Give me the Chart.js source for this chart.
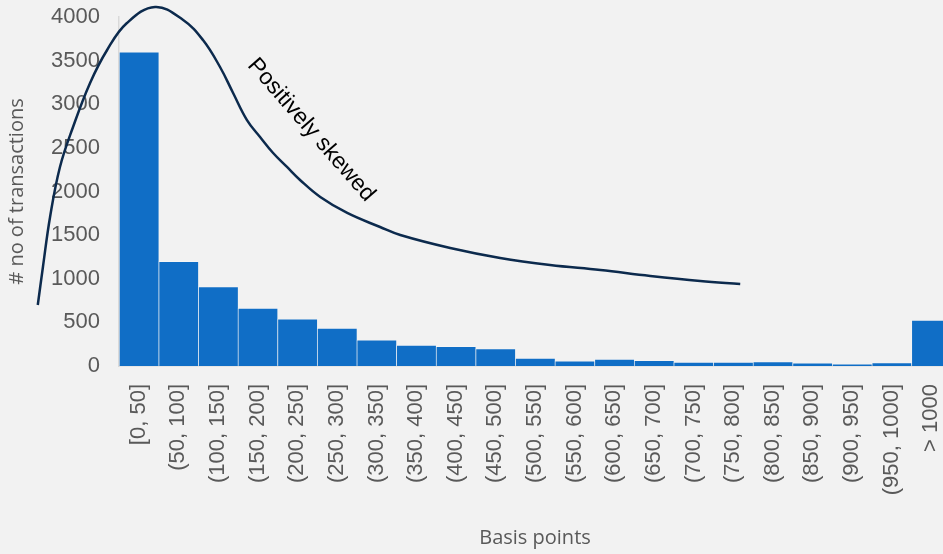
<!DOCTYPE html>
<html>
<head>
<meta charset="utf-8">
<script src="https://cdn.jsdelivr.net/npm/chart.js@4"></script>
<style>
  html, body { margin: 0; padding: 0; background: #f2f2f2; overflow: hidden; }
  #wrap { width: 951px; height: 554px; }
  canvas { display: block; }
</style>
</head>
<body>
<div id="wrap"><canvas id="chart" width="951" height="554"></canvas></div>
<script>
// Histogram of transaction spreads (basis points)
const categories = ['[0, 50]', '(50, 100]', '(100, 150]', '(150, 200]', '(200, 250]', '(250, 300]',
  '(300, 350]', '(350, 400]', '(400, 450]', '(450, 500]', '(500, 550]', '(550, 600]', '(600, 650]',
  '(650, 700]', '(700, 750]', '(750, 800]', '(800, 850]', '(850, 900]', '(900, 950]', '(950, 1000]', '> 1000'];
const transactions = [3600, 1200, 910, 665, 540, 435, 300, 240, 225, 200, 90, 60, 80, 65, 45, 45, 50, 35, 25, 40, 525];
const yTickValues = [0, 500, 1000, 1500, 2000, 2500, 3000, 3500, 4000];

// Sketched skew curve, x in bin units (0 = left edge of first bin), y in transactions
const curveX = [-2.05, -1.92, -1.74, -1.49, -1.16, -0.73, -0.30, 0.20, 0.91, 1.62, 2.12, 2.55, 2.88,
  3.23, 3.56, 3.89, 4.24, 4.57, 5.08, 5.76, 6.59, 7.10, 8.36, 9.62, 10.88, 12.15, 13.41, 14.67, 15.68];
const curveY = [699, 1135, 1708, 2281, 2739, 3244, 3622, 3931, 4115, 3966, 3736, 3427, 3129,
  2819, 2625, 2441, 2281, 2132, 1937, 1754, 1593, 1501, 1352, 1238, 1158, 1100, 1032, 974, 940];

// Curve label, placed in the same units as the curve
const noteText = 'Positively skewed';
const noteX = 4.85;
const noteY = 2705;
const noteAngle = 49;

const tickColor = '#595959';
const axisLine = '#d9d9d9';

const noteLabel = {
  id: 'noteLabel',
  afterDatasetsDraw(chart) {
    const { ctx } = chart;
    const px = chart.scales.xc.getPixelForValue(noteX);
    const py = chart.scales.y.getPixelForValue(noteY);
    ctx.save();
    ctx.translate(px, py);
    ctx.rotate(noteAngle * Math.PI / 180);
    ctx.font = '23px "Liberation Sans", Arial, sans-serif';
    ctx.fillStyle = '#000000';
    ctx.textAlign = 'center';
    ctx.textBaseline = 'middle';
    ctx.fillText(noteText, 0, 0);
    ctx.restore();
  }
};

// The curve runs past the left edge of the plot, so its points are handed over
// right-to-left: unsorted data keeps the line controller from trimming them.
const curvePoints = curveX.map((x, i) => ({ x, y: curveY[i] })).reverse();

new Chart(document.getElementById('chart'), {
  type: 'bar',
  data: {
    labels: categories,
    datasets: [
      {
        type: 'line',
        data: curvePoints,
        xAxisID: 'xc',
        yAxisID: 'y',
        borderColor: '#0c2a4d',
        borderWidth: 2.5,
        pointRadius: 0,
        tension: 0.4,
        fill: false,
        clip: false,
        order: 0
      },
      {
        type: 'bar',
        data: transactions,
        xAxisID: 'x',
        yAxisID: 'y',
        backgroundColor: '#106ec6',
        borderColor: 'rgba(255,255,255,0.22)',
        borderWidth: { top: 1, left: 1, right: 0, bottom: 0 },
        borderSkipped: false,
        categoryPercentage: 1,
        barPercentage: 1,
        grouped: false,
        order: 1
      }
    ]
  },
  options: {
    responsive: false,
    animation: false,
    layout: { padding: { top: 17, right: 0, bottom: 0, left: 0 } },
    plugins: { legend: { display: false }, tooltip: { enabled: false } },
    scales: {
      x: {
        type: 'category',
        offset: true,
        grid: { display: false, drawTicks: false, tickLength: 0 },
        border: { display: true, color: axisLine, width: 1.5 },
        ticks: {
          color: tickColor,
          font: { family: '"Liberation Sans", Arial, sans-serif', size: 22 },
          minRotation: 90,
          maxRotation: 90,
          autoSkip: false,
          padding: 18
        },
        title: {
          display: true,
          text: 'Basis points',
          color: tickColor,
          font: { family: '"Open Sans", sans-serif', size: 20 },
          padding: { top: 0, bottom: 4 }
        },
        afterFit(scale) {
          scale.height = 188;
          scale.paddingLeft = 0;
          scale.paddingRight = 0;
        }
      },
      xc: {
        type: 'linear',
        display: false,
        offset: false,
        grid: { offset: false },
        min: 0,
        max: 21
      },
      y: {
        type: 'linear',
        min: 0,
        max: 4000,
        grid: { display: false, drawTicks: false, tickLength: 0 },
        border: { display: true, color: axisLine, width: 1.5 },
        afterBuildTicks(scale) { scale.ticks = yTickValues.map(v => ({ value: v })); },
        ticks: {
          color: tickColor,
          font: { family: '"Liberation Sans", Arial, sans-serif', size: 22 },
          padding: 19,
          callback: (v) => String(v)
        },
        title: {
          display: true,
          text: '# no of transactions',
          color: tickColor,
          font: { family: '"Open Sans", sans-serif', size: 20 },
          padding: { top: 5, bottom: 0 }
        },
        afterFit(scale) {
          scale.width = 119;
          scale.paddingTop = 0;
          scale.paddingBottom = 0;
        }
      }
    }
  },
  plugins: [noteLabel]
});
</script>
</body>
</html>
